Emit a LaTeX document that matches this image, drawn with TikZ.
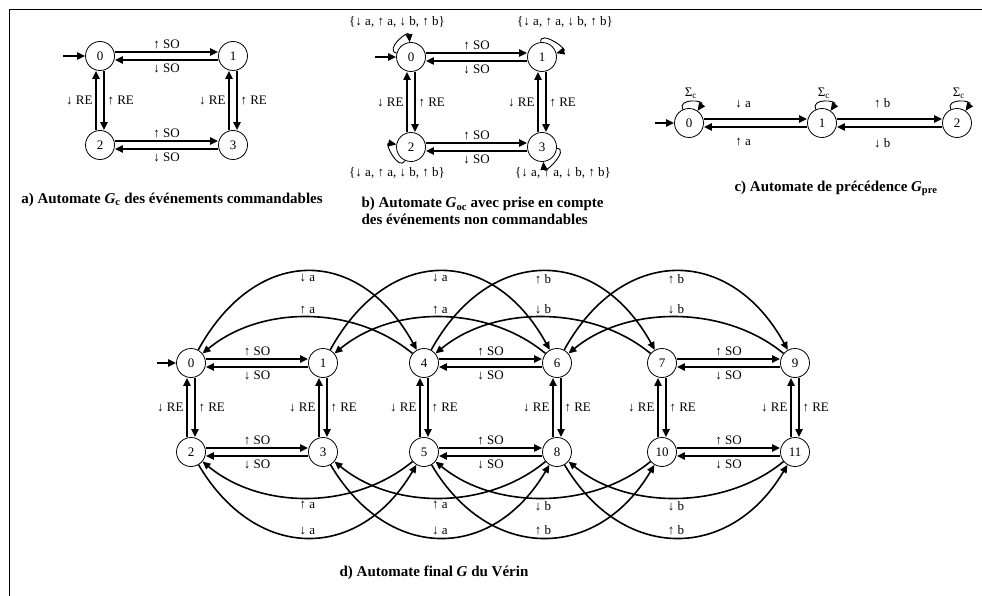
\documentclass[tikz,border=0pt]{standalone}
\usepackage{fontspec}
\setmainfont{Liberation Serif}
\usetikzlibrary{arrows.meta}

\tikzset{
  etat/.style={circle,draw,line width=0.8pt,minimum size=29pt,inner sep=0pt,font=\fontsize{13}{13}\selectfont},
  trans/.style={->,line width=2pt},
  arcline/.style={->,line width=1.6pt},
  boucle/.style={->,line width=0.9pt,min distance=13pt},
  lbl/.style={font=\fontsize{13}{14}\selectfont,inner sep=2.5pt},
  legende/.style={font=\bfseries\fontsize{15}{16.5}\selectfont},
}

\begin{document}
\begin{tikzpicture}[x=1pt,y=1pt,>={Triangle[length=8pt,width=7pt]}]
		\useasboundingbox (0,0) rectangle (982,-596);
		\draw[line width=0.8pt] (9,-596) -- (9,-9) -- (982,-9);

		\node[etat] (a0) at (100,-56) {0};
		\node[etat] (a1) at (233,-56) {1};
		\node[etat] (a2) at (100,-145) {2};
		\node[etat] (a3) at (233,-145) {3};
		\coordinate (ia) at (63,-56);
		\draw[trans] (ia) -- (a0);
		\draw[trans] ([yshift=4pt]a0.east) -- node[lbl,above]{↑ SO} ([yshift=4pt]a1.west);
		\draw[trans] ([yshift=-4pt]a1.west) -- node[lbl,below]{↓ SO} ([yshift=-4pt]a0.east);
		\draw[trans] ([yshift=4pt]a2.east) -- node[lbl,above]{↑ SO} ([yshift=4pt]a3.west);
		\draw[trans] ([yshift=-4pt]a3.west) -- node[lbl,below]{↓ SO} ([yshift=-4pt]a2.east);
		\draw[trans] ([xshift=4pt]a0.south) -- node[lbl,right]{↑ RE} ([xshift=4pt]a2.north);
		\draw[trans] ([xshift=-4pt]a2.north) -- node[lbl,left]{↓ RE} ([xshift=-4pt]a0.south);
		\draw[trans] ([xshift=4pt]a1.south) -- node[lbl,right]{↑ RE} ([xshift=4pt]a3.north);
		\draw[trans] ([xshift=-4pt]a3.north) -- node[lbl,left]{↓ RE} ([xshift=-4pt]a1.south);
		\node[legende] (capa) at (172,-200) {a) Automate \textit{G}\textsubscript{c} des événements commandables};

		\node[etat] (b0) at (411,-57) {0};
		\node[etat] (b1) at (542,-57) {1};
		\node[etat] (b2) at (411,-147) {2};
		\node[etat] (b3) at (542,-147) {3};
		\coordinate (ib) at (375,-57);
		\draw[trans] (ib) -- (b0);
		\draw[trans] ([yshift=4pt]b0.east) -- node[lbl,above]{↑ SO} ([yshift=4pt]b1.west);
		\draw[trans] ([yshift=-4pt]b1.west) -- node[lbl,below]{↓ SO} ([yshift=-4pt]b0.east);
		\draw[trans] ([yshift=4pt]b2.east) -- node[lbl,above]{↑ SO} ([yshift=4pt]b3.west);
		\draw[trans] ([yshift=-4pt]b3.west) -- node[lbl,below]{↓ SO} ([yshift=-4pt]b2.east);
		\draw[trans] ([xshift=4pt]b0.south) -- node[lbl,right]{↑ RE} ([xshift=4pt]b2.north);
		\draw[trans] ([xshift=-4pt]b2.north) -- node[lbl,left]{↓ RE} ([xshift=-4pt]b0.south);
		\draw[trans] ([xshift=4pt]b1.south) -- node[lbl,right]{↑ RE} ([xshift=4pt]b3.north);
		\draw[trans] ([xshift=-4pt]b3.north) -- node[lbl,left]{↓ RE} ([xshift=-4pt]b1.south);
		\draw[boucle] (b0) to[out=165,in=95] (b0);
		\draw[boucle] (b1) to[out=95,in=15] (b1);
		\draw[boucle] (b2) to[out=245,in=170] (b2);
		\draw[boucle] (b3) to[out=355,in=275] (b3);
		\node[lbl] (lb0) at (397,-22) {\{↓ a, ↑ a, ↓ b, ↑ b\}};
		\node[lbl] (lb1) at (565,-22) {\{↓ a, ↑ a, ↓ b, ↑ b\}};
		\node[lbl] (lb2) at (397,-173) {\{↓ a, ↑ a, ↓ b, ↑ b\}};
		\node[lbl] (lb3) at (563,-173) {\{↓ a, ↑ a, ↓ b, ↑ b\}};
		\node[legende,align=left,anchor=west] (capb) at (358,-211) {b) Automate \textit{G}\textsubscript{oc} avec prise en compte\\des événements non commandables};

		\node[etat] (c0) at (689,-123) {0};
		\node[etat] (c1) at (822,-123) {1};
		\node[etat] (c2) at (957,-123) {2};
		\coordinate (ic) at (655,-123);
		\draw[trans] (ic) -- (c0);
		\draw[trans] ([yshift=4pt]c0.east) -- node[lbl,above=8pt,pos=0.38]{↓ a} ([yshift=4pt]c1.west);
		\draw[trans] ([yshift=-4pt]c1.west) -- node[lbl,below=8pt,pos=0.62]{↑ a} ([yshift=-4pt]c0.east);
		\draw[trans] ([yshift=4pt]c1.east) -- node[lbl,above=8pt,pos=0.43]{↑ b} ([yshift=4pt]c2.west);
		\draw[trans] ([yshift=-4pt]c2.west) -- node[lbl,below=8pt,pos=0.57]{↓ b} ([yshift=-4pt]c1.east);
		\draw[boucle] (c0) to[out=115,in=55] node[lbl,above]{Σ\textsubscript{c}} (c0);
		\draw[boucle] (c1) to[out=115,in=55] node[lbl,above]{Σ\textsubscript{c}} (c1);
		\draw[boucle] (c2) to[out=115,in=55] node[lbl,above]{Σ\textsubscript{c}} (c2);
		\node[legende] (capc) at (836,-188) {c) Automate de précédence \textit{G}\textsubscript{pre}};

		\node[etat] (d0) at (191,-363) {0};
		\node[etat] (d1) at (323,-363) {1};
		\node[etat] (d4) at (424,-363) {4};
		\node[etat] (d6) at (557,-363) {6};
		\node[etat] (d7) at (662,-363) {7};
		\node[etat] (d9) at (795,-363) {9};
		\node[etat] (d2) at (191,-452) {2};
		\node[etat] (d3) at (323,-452) {3};
		\node[etat] (d5) at (424,-452) {5};
		\node[etat] (d8) at (557,-452) {8};
		\node[etat] (d10) at (662,-452) {10};
		\node[etat] (d11) at (795,-452) {11};
		\coordinate (id) at (157,-363);
		\draw[trans] (id) -- (d0);
		\draw[trans] ([yshift=4pt]d0.east) -- node[lbl,above]{↑ SO} ([yshift=4pt]d1.west);
		\draw[trans] ([yshift=-4pt]d1.west) -- node[lbl,below]{↓ SO} ([yshift=-4pt]d0.east);
		\draw[trans] ([yshift=4pt]d2.east) -- node[lbl,above]{↑ SO} ([yshift=4pt]d3.west);
		\draw[trans] ([yshift=-4pt]d3.west) -- node[lbl,below]{↓ SO} ([yshift=-4pt]d2.east);
		\draw[trans] ([xshift=4pt]d0.south) -- node[lbl,right]{↑ RE} ([xshift=4pt]d2.north);
		\draw[trans] ([xshift=-4pt]d2.north) -- node[lbl,left]{↓ RE} ([xshift=-4pt]d0.south);
		\draw[trans] ([xshift=4pt]d1.south) -- node[lbl,right]{↑ RE} ([xshift=4pt]d3.north);
		\draw[trans] ([xshift=-4pt]d3.north) -- node[lbl,left]{↓ RE} ([xshift=-4pt]d1.south);
		\draw[trans] ([yshift=4pt]d4.east) -- node[lbl,above]{↑ SO} ([yshift=4pt]d6.west);
		\draw[trans] ([yshift=-4pt]d6.west) -- node[lbl,below]{↓ SO} ([yshift=-4pt]d4.east);
		\draw[trans] ([yshift=4pt]d5.east) -- node[lbl,above]{↑ SO} ([yshift=4pt]d8.west);
		\draw[trans] ([yshift=-4pt]d8.west) -- node[lbl,below]{↓ SO} ([yshift=-4pt]d5.east);
		\draw[trans] ([xshift=4pt]d4.south) -- node[lbl,right]{↑ RE} ([xshift=4pt]d5.north);
		\draw[trans] ([xshift=-4pt]d5.north) -- node[lbl,left]{↓ RE} ([xshift=-4pt]d4.south);
		\draw[trans] ([xshift=4pt]d6.south) -- node[lbl,right]{↑ RE} ([xshift=4pt]d8.north);
		\draw[trans] ([xshift=-4pt]d8.north) -- node[lbl,left]{↓ RE} ([xshift=-4pt]d6.south);
		\draw[trans] ([yshift=4pt]d7.east) -- node[lbl,above]{↑ SO} ([yshift=4pt]d9.west);
		\draw[trans] ([yshift=-4pt]d9.west) -- node[lbl,below]{↓ SO} ([yshift=-4pt]d7.east);
		\draw[trans] ([yshift=4pt]d10.east) -- node[lbl,above]{↑ SO} ([yshift=4pt]d11.west);
		\draw[trans] ([yshift=-4pt]d11.west) -- node[lbl,below]{↓ SO} ([yshift=-4pt]d10.east);
		\draw[trans] ([xshift=4pt]d7.south) -- node[lbl,right]{↑ RE} ([xshift=4pt]d10.north);
		\draw[trans] ([xshift=-4pt]d10.north) -- node[lbl,left]{↓ RE} ([xshift=-4pt]d7.south);
		\draw[trans] ([xshift=4pt]d9.south) -- node[lbl,right]{↑ RE} ([xshift=4pt]d11.north);
		\draw[trans] ([xshift=-4pt]d11.north) -- node[lbl,left]{↓ RE} ([xshift=-4pt]d9.south);
		\draw[arcline] (d0) .. controls +(65,118) and +(-65,118) .. node[lbl,below]{↓ a} (d4);
		\draw[arcline] (d4) .. controls +(-70,58) and +(70,58) .. node[lbl,above]{↑ a} (d0);
		\draw[arcline] (d1) .. controls +(65,118) and +(-65,118) .. node[lbl,below]{↓ a} (d6);
		\draw[arcline] (d6) .. controls +(-70,58) and +(70,58) .. node[lbl,above]{↑ a} (d1);
		\draw[arcline] (d4) .. controls +(65,118) and +(-65,118) .. node[lbl,below]{↑ b} (d7);
		\draw[arcline] (d7) .. controls +(-70,58) and +(70,58) .. node[lbl,above]{↓ b} (d4);
		\draw[arcline] (d6) .. controls +(65,118) and +(-65,118) .. node[lbl,below]{↑ b} (d9);
		\draw[arcline] (d9) .. controls +(-70,58) and +(70,58) .. node[lbl,above]{↓ b} (d6);
		\draw[arcline] (d2) .. controls +(65,-110) and +(-65,-110) .. node[lbl,above]{↓ a} (d5);
		\draw[arcline] (d5) .. controls +(-70,-58) and +(70,-58) .. node[lbl,below]{↑ a} (d2);
		\draw[arcline] (d3) .. controls +(65,-110) and +(-65,-110) .. node[lbl,above]{↓ a} (d8);
		\draw[arcline] (d8) .. controls +(-70,-58) and +(70,-58) .. node[lbl,below]{↑ a} (d3);
		\draw[arcline] (d5) .. controls +(65,-110) and +(-65,-110) .. node[lbl,above]{↑ b} (d10);
		\draw[arcline] (d10) .. controls +(-70,-58) and +(70,-58) .. node[lbl,below]{↓ b} (d5);
		\draw[arcline] (d8) .. controls +(65,-110) and +(-65,-110) .. node[lbl,above]{↑ b} (d11);
		\draw[arcline] (d11) .. controls +(-70,-58) and +(70,-58) .. node[lbl,below]{↓ b} (d8);
		\node[legende] (capd) at (434,-573) {d) Automate final \textit{G} du Vérin};
\end{tikzpicture}
\end{document}
